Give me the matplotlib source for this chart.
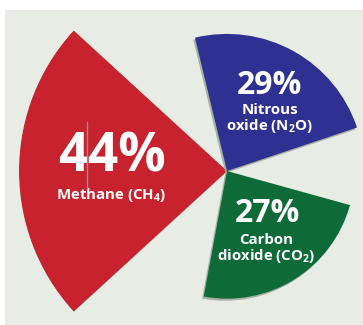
import numpy as np
import matplotlib
matplotlib.use('Agg')
import matplotlib.pyplot as plt
import matplotlib.patheffects as pe
from matplotlib.patches import Rectangle
from matplotlib.lines import Line2D

plt.rcParams['font.family'] = ['Open Sans', 'DejaVu Sans']
plt.rcParams['mathtext.default'] = 'regular'

# share of each gas; each slice sits in its own sector
gases = ['Methane (CH$_4$)', 'Nitrous\noxide (N$_2$O)', 'Carbon\ndioxide (CO$_2$)']
shares = [44, 29, 27]
sector_deg = [180, 61, 302]
colors = ['#c8222e', '#2e3192', '#0e6b37']

W, H = 363, 325
fig = plt.figure(figsize=(W / 100, H / 100), dpi=100)
fig.patch.set_facecolor('white')
fig.patches.append(Rectangle((5 / W, 0), 1, 1 - 10 / H, transform=fig.transFigure,
                             facecolor='#e7ece5', edgecolor='none', zorder=-5))

# polar axes centred on the common vertex
cx, cy = 227 / W, 1 - 171 / H
rmax = 44
rpx = 208
ax = fig.add_axes([cx - rpx / W, cy - rpx / H, 2 * rpx / W, 2 * rpx / H],
                  projection='polar', zorder=1)
ax.set_facecolor('none')
ax.set_ylim(0, rmax)
ax.set_axis_off()

theta = np.deg2rad(sector_deg)
width = np.deg2rad(85)
bars = ax.bar(theta, shares, width=width, color=colors, linewidth=0)
for b in bars:
    b.set_path_effects([pe.SimplePatchShadow(offset=(-1.2, -1.5), shadow_rgbFace='#95a295',
                                             alpha=0.8), pe.Normal()])

# percentage and gas name inside each slice
pct_pos = [(112, 158), (269, 85), (267, 214)]
pct_size = [38, 23, 23]
name_pos = [(111, 195), (270, 119), (266, 249)]
for i in range(3):
    x, y = pct_pos[i]
    fig.text(x / W, 1 - y / H, '%d%%' % shares[i], color='white', fontsize=pct_size[i],
             fontweight='bold', ha='center', va='center', zorder=3)
    x, y = name_pos[i]
    fig.text(x / W, 1 - y / H, gases[i], color='white', fontsize=10.8, fontweight='bold',
             ha='center', va='center', linespacing=1.05, zorder=3)

fig.lines.append(Line2D([87 / W, 87 / W], [1 - 122 / H, 1 - 188 / H], transform=fig.transFigure,
                        color='#909090', linewidth=1.0, zorder=4))

fig.savefig('out.png', dpi=100)
